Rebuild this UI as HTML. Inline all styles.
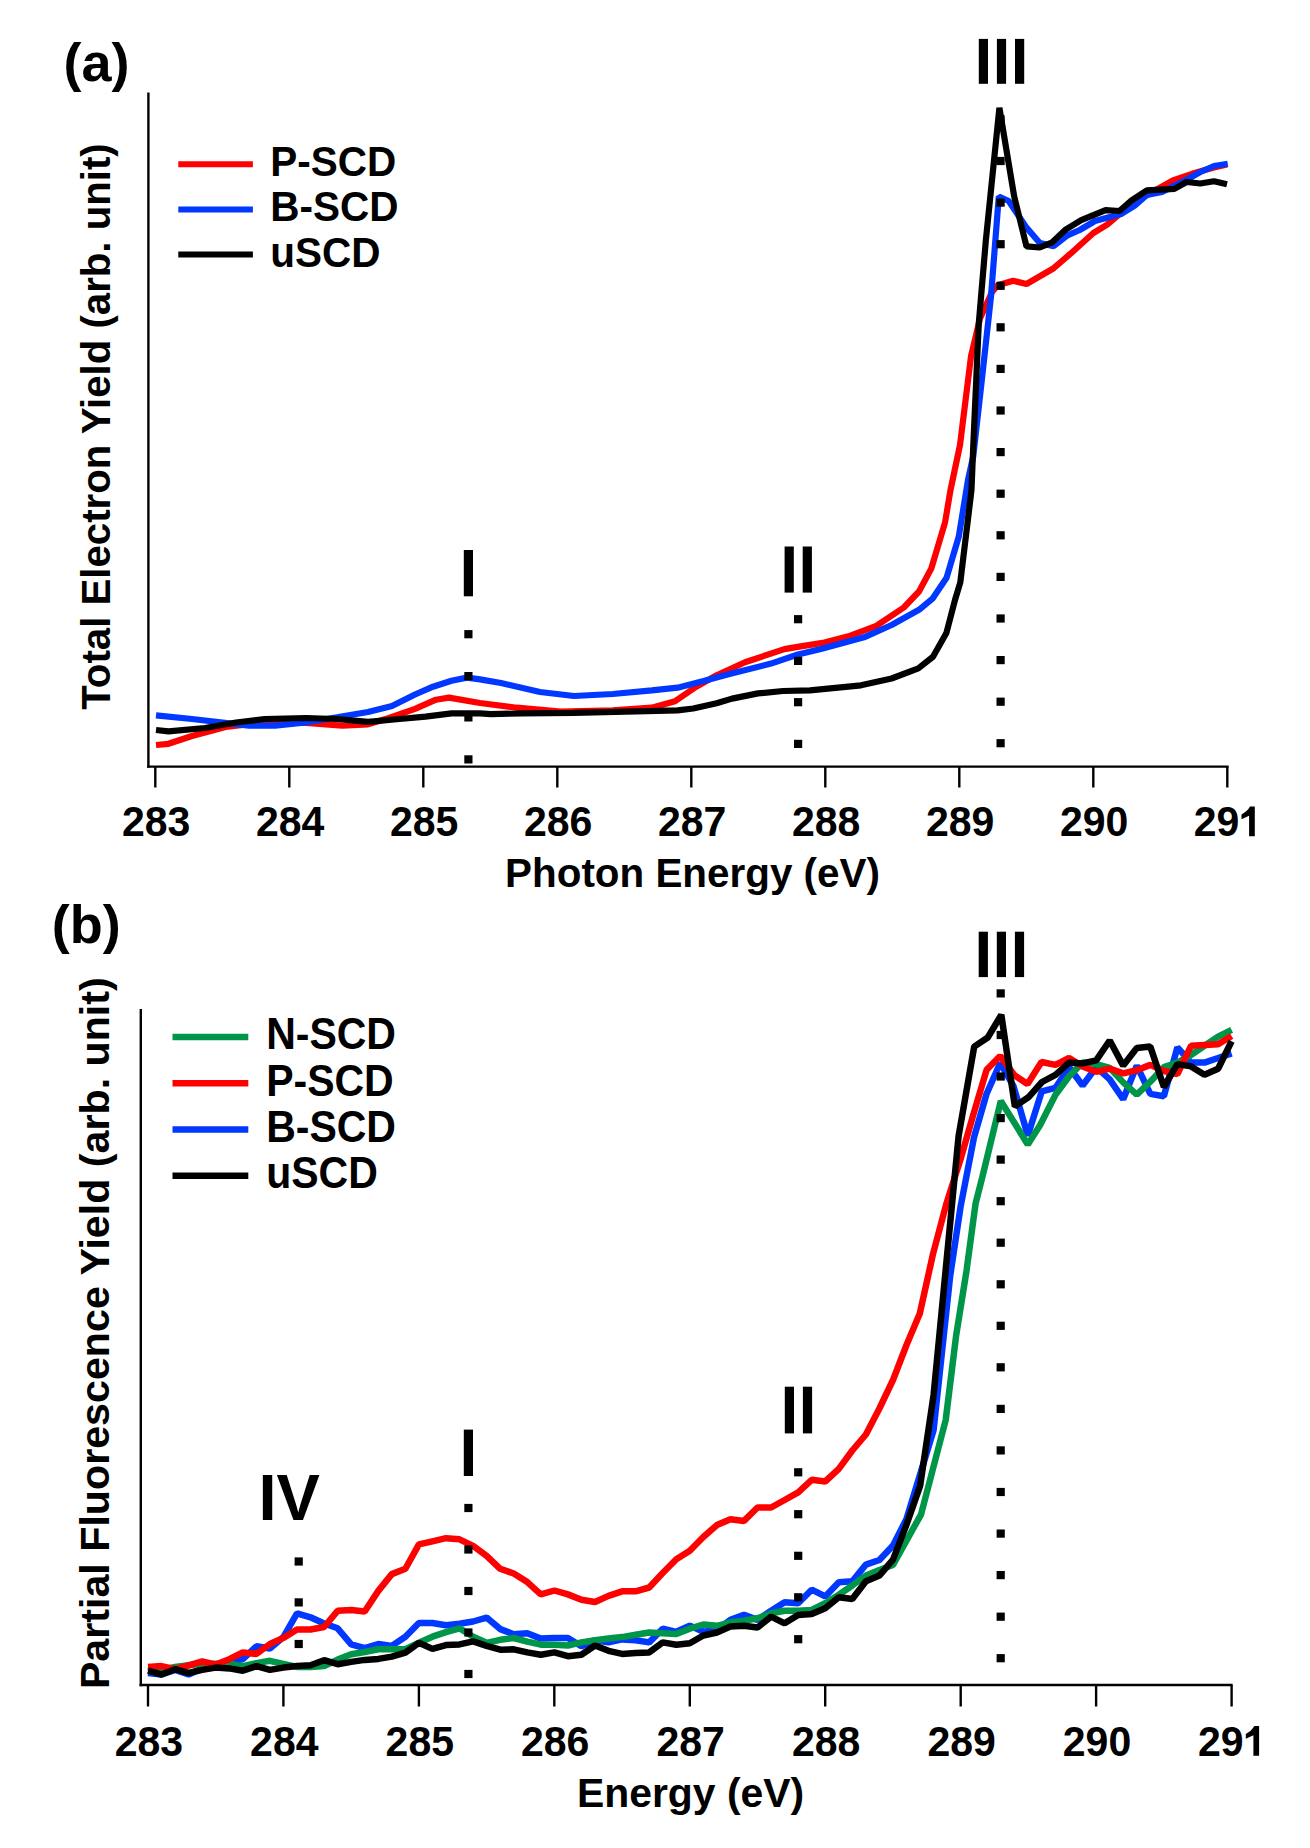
<!DOCTYPE html>
<html><head><meta charset="utf-8"><title>NEXAFS spectra</title>
<style>html,body{margin:0;padding:0;background:#fff;} body{width:1310px;height:1848px;overflow:hidden;font-family:"Liberation Sans",sans-serif;} svg{display:block;}</style>
</head><body>
<svg width="1310" height="1848" viewBox="0 0 1310 1848">
<rect x="0" y="0" width="1310" height="1848" fill="#ffffff"/>
<line x1="148.4" y1="92.6" x2="148.4" y2="767.8000000000001" stroke="#000" stroke-width="2.4"/>
<line x1="147.20000000000002" y1="766.6" x2="1228.6" y2="766.6" stroke="#000" stroke-width="2.4"/>
<line x1="155.3" y1="766.6" x2="155.3" y2="787.5" stroke="#000" stroke-width="2.4"/>
<text transform="translate(156.2,836.3) scale(1,1.06)" x="0" y="0" font-size="41" text-anchor="middle" font-family="Liberation Sans" font-weight="bold">283</text>
<line x1="289.3" y1="766.6" x2="289.3" y2="787.5" stroke="#000" stroke-width="2.4"/>
<text transform="translate(290.2,836.3) scale(1,1.06)" x="0" y="0" font-size="41" text-anchor="middle" font-family="Liberation Sans" font-weight="bold">284</text>
<line x1="423.3" y1="766.6" x2="423.3" y2="787.5" stroke="#000" stroke-width="2.4"/>
<text transform="translate(424.2,836.3) scale(1,1.06)" x="0" y="0" font-size="41" text-anchor="middle" font-family="Liberation Sans" font-weight="bold">285</text>
<line x1="557.3" y1="766.6" x2="557.3" y2="787.5" stroke="#000" stroke-width="2.4"/>
<text transform="translate(558.2,836.3) scale(1,1.06)" x="0" y="0" font-size="41" text-anchor="middle" font-family="Liberation Sans" font-weight="bold">286</text>
<line x1="691.3" y1="766.6" x2="691.3" y2="787.5" stroke="#000" stroke-width="2.4"/>
<text transform="translate(692.2,836.3) scale(1,1.06)" x="0" y="0" font-size="41" text-anchor="middle" font-family="Liberation Sans" font-weight="bold">287</text>
<line x1="825.3" y1="766.6" x2="825.3" y2="787.5" stroke="#000" stroke-width="2.4"/>
<text transform="translate(826.2,836.3) scale(1,1.06)" x="0" y="0" font-size="41" text-anchor="middle" font-family="Liberation Sans" font-weight="bold">288</text>
<line x1="959.3" y1="766.6" x2="959.3" y2="787.5" stroke="#000" stroke-width="2.4"/>
<text transform="translate(960.2,836.3) scale(1,1.06)" x="0" y="0" font-size="41" text-anchor="middle" font-family="Liberation Sans" font-weight="bold">289</text>
<line x1="1093.3" y1="766.6" x2="1093.3" y2="787.5" stroke="#000" stroke-width="2.4"/>
<text transform="translate(1094.2,836.3) scale(1,1.06)" x="0" y="0" font-size="41" text-anchor="middle" font-family="Liberation Sans" font-weight="bold">290</text>
<line x1="1227.3" y1="766.6" x2="1227.3" y2="787.5" stroke="#000" stroke-width="2.4"/>
<text transform="translate(1193.7,836.3) scale(1,1.06)" x="0" y="0" font-size="41" font-family="Liberation Sans" font-weight="bold">29</text><path d="M1254.8 806.6 L1254.8 836.3 L1249.1 836.3 L1249.1 815.7 L1241.5 819.3 L1241.5 814.5 Q1247.2 811.7 1250.0 806.6 Z" fill="#000"/>
<text x="692.5" y="886.5" font-size="40.4" text-anchor="middle" font-family="Liberation Sans" font-weight="bold">Photon Energy (eV)</text>
<text transform="translate(109.6,426.5) rotate(-90)" x="0" y="0" font-size="40.2" text-anchor="middle" font-family="Liberation Sans" font-weight="bold">Total Electron Yield (arb. unit)</text>
<text x="63.5" y="81" font-size="54" font-family="Liberation Sans" font-weight="bold">(a)</text>
<line x1="178.3" y1="164.3" x2="252.9" y2="164.3" stroke="#ff0000" stroke-width="6"/>
<text transform="translate(270.2,176.2) scale(1,1.03)" x="0" y="0" font-size="40.5" font-family="Liberation Sans" font-weight="bold">P-SCD</text>
<line x1="178.3" y1="209.4" x2="252.9" y2="209.4" stroke="#0038ff" stroke-width="6"/>
<text transform="translate(270.2,221.4) scale(1,1.03)" x="0" y="0" font-size="40.5" font-family="Liberation Sans" font-weight="bold">B-SCD</text>
<line x1="178.3" y1="254.5" x2="252.9" y2="254.5" stroke="#000000" stroke-width="6"/>
<text transform="translate(270.2,266.6) scale(1,1.03)" x="0" y="0" font-size="40.5" font-family="Liberation Sans" font-weight="bold">uSCD</text>
<rect x="463.8" y="550.0" width="9.2" height="46.3" fill="#000"/>
<rect x="784.6" y="546.5" width="9.2" height="46.1" fill="#000"/><rect x="802.7" y="546.5" width="9.2" height="46.1" fill="#000"/>
<rect x="978.8" y="38.9" width="9.2" height="44.9" fill="#000"/><rect x="996.9" y="38.9" width="9.2" height="44.9" fill="#000"/><rect x="1015.0" y="38.9" width="9.2" height="44.9" fill="#000"/>
<polyline points="156.0,745.0 168.5,743.8 192.0,736.0 225.6,727.0 270.0,721.8 306.0,723.0 342.4,725.6 368.0,724.3 389.0,718.0 415.0,708.8 436.0,699.7 449.0,697.6 480.0,703.0 516.7,707.7 560.8,711.6 612.7,710.3 651.7,707.7 675.0,701.2 695.8,687.0 716.6,675.3 745.0,662.3 784.4,649.1 800.6,646.4 824.4,642.6 850.4,635.7 876.3,625.8 903.8,607.5 919.0,591.5 931.3,568.5 945.0,522.7 950.5,490.0 960.0,445.0 971.0,356.3 980.0,318.5 992.0,292.0 997.7,285.3 1013.2,280.8 1026.5,284.0 1053.7,268.2 1070.5,253.7 1093.4,233.0 1107.2,224.7 1131.6,204.0 1146.9,195.0 1172.8,180.5 1192.7,173.6 1214.0,167.5 1227.0,164.4" fill="none" stroke="#ff0000" stroke-width="6.2" stroke-linejoin="bevel" stroke-linecap="butt"/>
<polyline points="156.0,715.3 192.0,719.0 249.0,725.6 275.0,725.6 306.0,722.5 337.0,717.3 368.0,712.0 392.0,706.0 415.0,694.5 433.0,686.7 451.5,680.7 467.0,677.6 480.0,679.4 501.0,683.0 540.0,692.0 574.0,696.0 612.7,694.0 651.7,690.3 677.6,687.7 703.6,681.0 729.5,674.0 771.0,663.6 797.9,654.5 820.9,649.1 864.0,637.3 891.6,625.0 919.0,609.8 932.8,598.3 946.6,577.7 958.8,536.5 968.0,480.0 973.3,456.0 982.0,378.4 991.0,296.3 998.8,196.5 1008.7,201.0 1026.5,227.6 1039.8,243.0 1053.7,246.1 1067.5,235.4 1079.7,230.0 1095.0,221.0 1121.0,214.0 1134.7,205.6 1146.9,195.0 1162.0,192.0 1186.6,179.7 1200.3,172.0 1214.0,166.0 1227.8,163.7" fill="none" stroke="#0038ff" stroke-width="6.2" stroke-linejoin="bevel" stroke-linecap="butt"/>
<polyline points="156.0,730.0 168.5,731.4 205.0,728.0 236.0,722.5 264.6,719.0 306.0,718.0 337.0,719.0 368.0,721.8 399.5,719.0 425.5,716.6 451.5,713.4 480.0,713.4 490.8,714.2 522.0,713.4 573.8,712.9 625.7,711.6 677.6,710.3 693.2,708.5 716.6,703.3 732.0,698.6 758.0,693.4 783.0,691.0 810.0,690.4 861.0,685.3 891.6,678.5 918.3,668.4 933.0,656.8 946.4,633.0 955.0,600.0 960.3,582.3 971.5,490.0 973.3,445.0 978.8,323.0 985.8,240.9 999.4,107.7 1014.2,196.5 1026.5,246.4 1039.8,247.5 1052.2,242.3 1066.0,229.3 1081.2,220.2 1105.6,210.2 1119.4,211.0 1131.6,200.3 1146.9,190.4 1174.4,188.9 1186.6,182.0 1200.3,183.5 1214.0,181.2 1227.0,184.3" fill="none" stroke="#000000" stroke-width="6.2" stroke-linejoin="bevel" stroke-linecap="butt"/>
<rect x="464.3" y="630.1" width="8.2" height="8.2" fill="#000"/><rect x="464.3" y="672.0" width="8.2" height="8.2" fill="#000"/><rect x="464.3" y="713.3" width="8.2" height="8.2" fill="#000"/><rect x="464.3" y="755.3" width="8.2" height="8.2" fill="#000"/>
<rect x="794.0" y="615.1" width="8.2" height="8.2" fill="#000"/><rect x="794.0" y="656.8" width="8.2" height="8.2" fill="#000"/><rect x="794.0" y="698.1" width="8.2" height="8.2" fill="#000"/><rect x="794.0" y="739.8" width="8.2" height="8.2" fill="#000"/>
<rect x="996.5" y="115.3" width="8.2" height="8.2" fill="#000"/><rect x="996.5" y="156.9" width="8.2" height="8.2" fill="#000"/><rect x="996.5" y="198.5" width="8.2" height="8.2" fill="#000"/><rect x="996.5" y="240.1" width="8.2" height="8.2" fill="#000"/><rect x="996.5" y="281.7" width="8.2" height="8.2" fill="#000"/><rect x="996.5" y="323.2" width="8.2" height="8.2" fill="#000"/><rect x="996.5" y="364.8" width="8.2" height="8.2" fill="#000"/><rect x="996.5" y="406.4" width="8.2" height="8.2" fill="#000"/><rect x="996.5" y="448.0" width="8.2" height="8.2" fill="#000"/><rect x="996.5" y="489.6" width="8.2" height="8.2" fill="#000"/><rect x="996.5" y="531.2" width="8.2" height="8.2" fill="#000"/><rect x="996.5" y="572.8" width="8.2" height="8.2" fill="#000"/><rect x="996.5" y="614.4" width="8.2" height="8.2" fill="#000"/><rect x="996.5" y="656.0" width="8.2" height="8.2" fill="#000"/><rect x="996.5" y="697.6" width="8.2" height="8.2" fill="#000"/><rect x="996.5" y="739.1" width="8.2" height="8.2" fill="#000"/>
<line x1="140.8" y1="1009.1" x2="140.8" y2="1686.2" stroke="#000" stroke-width="2.4"/>
<line x1="139.60000000000002" y1="1685.0" x2="1232.6" y2="1685.0" stroke="#000" stroke-width="2.4"/>
<line x1="148.0" y1="1685.0" x2="148.0" y2="1706.5" stroke="#000" stroke-width="2.4"/>
<text transform="translate(148.9,1755.8) scale(1,1.06)" x="0" y="0" font-size="41" text-anchor="middle" font-family="Liberation Sans" font-weight="bold">283</text>
<line x1="283.4" y1="1685.0" x2="283.4" y2="1706.5" stroke="#000" stroke-width="2.4"/>
<text transform="translate(284.3,1755.8) scale(1,1.06)" x="0" y="0" font-size="41" text-anchor="middle" font-family="Liberation Sans" font-weight="bold">284</text>
<line x1="418.9" y1="1685.0" x2="418.9" y2="1706.5" stroke="#000" stroke-width="2.4"/>
<text transform="translate(419.8,1755.8) scale(1,1.06)" x="0" y="0" font-size="41" text-anchor="middle" font-family="Liberation Sans" font-weight="bold">285</text>
<line x1="554.3" y1="1685.0" x2="554.3" y2="1706.5" stroke="#000" stroke-width="2.4"/>
<text transform="translate(555.2,1755.8) scale(1,1.06)" x="0" y="0" font-size="41" text-anchor="middle" font-family="Liberation Sans" font-weight="bold">286</text>
<line x1="689.8" y1="1685.0" x2="689.8" y2="1706.5" stroke="#000" stroke-width="2.4"/>
<text transform="translate(690.7,1755.8) scale(1,1.06)" x="0" y="0" font-size="41" text-anchor="middle" font-family="Liberation Sans" font-weight="bold">287</text>
<line x1="825.2" y1="1685.0" x2="825.2" y2="1706.5" stroke="#000" stroke-width="2.4"/>
<text transform="translate(826.1,1755.8) scale(1,1.06)" x="0" y="0" font-size="41" text-anchor="middle" font-family="Liberation Sans" font-weight="bold">288</text>
<line x1="960.7" y1="1685.0" x2="960.7" y2="1706.5" stroke="#000" stroke-width="2.4"/>
<text transform="translate(961.6,1755.8) scale(1,1.06)" x="0" y="0" font-size="41" text-anchor="middle" font-family="Liberation Sans" font-weight="bold">289</text>
<line x1="1096.1" y1="1685.0" x2="1096.1" y2="1706.5" stroke="#000" stroke-width="2.4"/>
<text transform="translate(1097.0,1755.8) scale(1,1.06)" x="0" y="0" font-size="41" text-anchor="middle" font-family="Liberation Sans" font-weight="bold">290</text>
<line x1="1231.6" y1="1685.0" x2="1231.6" y2="1706.5" stroke="#000" stroke-width="2.4"/>
<text transform="translate(1198.0,1755.8) scale(1,1.06)" x="0" y="0" font-size="41" font-family="Liberation Sans" font-weight="bold">29</text><path d="M1259.1 1726.1 L1259.1 1755.8 L1253.4 1755.8 L1253.4 1735.2 L1245.8 1738.8 L1245.8 1734.0 Q1251.5 1731.2 1254.3 1726.1 Z" fill="#000"/>
<text x="690.6" y="1807.2" font-size="40.9" text-anchor="middle" font-family="Liberation Sans" font-weight="bold">Energy (eV)</text>
<text transform="translate(108.6,1333.2) rotate(-90)" x="0" y="0" font-size="41.2" text-anchor="middle" font-family="Liberation Sans" font-weight="bold">Partial Fluorescence Yield (arb. unit)</text>
<text x="51.8" y="942.6" font-size="54" font-family="Liberation Sans" font-weight="bold">(b)</text>
<line x1="172.5" y1="1037.1" x2="248.3" y2="1037.1" stroke="#00964a" stroke-width="6.5"/>
<text transform="translate(266.2,1049.4) scale(1,1.07)" x="0" y="0" font-size="41" font-family="Liberation Sans" font-weight="bold">N-SCD</text>
<line x1="172.5" y1="1083.3" x2="248.3" y2="1083.3" stroke="#ff0000" stroke-width="6.5"/>
<text transform="translate(266.2,1095.5) scale(1,1.07)" x="0" y="0" font-size="41" font-family="Liberation Sans" font-weight="bold">P-SCD</text>
<line x1="172.5" y1="1129.5" x2="248.3" y2="1129.5" stroke="#0038ff" stroke-width="6.5"/>
<text transform="translate(266.2,1141.6) scale(1,1.07)" x="0" y="0" font-size="41" font-family="Liberation Sans" font-weight="bold">B-SCD</text>
<line x1="172.5" y1="1175.7" x2="248.3" y2="1175.7" stroke="#000000" stroke-width="6.5"/>
<text transform="translate(266.2,1187.7) scale(1,1.07)" x="0" y="0" font-size="41" font-family="Liberation Sans" font-weight="bold">uSCD</text>
<rect x="463.8" y="1429.6" width="9.2" height="46.4" fill="#000"/>
<rect x="784.8" y="1386.7" width="9.2" height="46.7" fill="#000"/><rect x="802.9" y="1386.7" width="9.2" height="46.7" fill="#000"/>
<rect x="978.7" y="931.7" width="9.2" height="45.4" fill="#000"/><rect x="996.8" y="931.7" width="9.2" height="45.4" fill="#000"/><rect x="1014.9" y="931.7" width="9.2" height="45.4" fill="#000"/>
<text x="258.5" y="1520.4" font-size="65" font-family="Liberation Sans" font-weight="bold">IV</text>
<polyline points="148.0,1673.0 161.5,1674.5 175.1,1670.0 188.6,1674.5 202.2,1668.4 215.7,1665.3 229.3,1662.3 242.8,1659.2 256.4,1646.3 269.9,1648.5 283.4,1637.1 297.0,1613.4 310.5,1617.3 324.1,1623.5 337.6,1628.3 351.2,1644.4 364.7,1648.2 378.3,1644.0 391.8,1645.9 405.4,1636.7 418.9,1623.0 432.4,1623.0 446.0,1625.3 459.5,1623.7 473.1,1621.5 486.6,1617.6 500.2,1629.1 513.7,1634.2 527.3,1633.3 540.8,1638.6 554.4,1637.9 567.9,1637.9 581.4,1646.3 595.0,1640.2 608.5,1642.4 622.1,1639.4 635.6,1640.2 649.2,1642.4 662.7,1628.7 676.3,1631.8 689.8,1625.6 703.3,1631.7 716.9,1630.0 730.4,1619.9 744.0,1614.9 757.5,1619.9 771.1,1610.7 784.6,1602.3 798.2,1603.2 811.7,1589.7 825.2,1596.4 838.8,1582.2 852.3,1581.3 865.9,1564.6 879.4,1560.0 893.0,1545.5 906.5,1519.0 920.1,1474.5 933.6,1430.0 950.2,1275.7 960.6,1206.5 974.0,1137.3 986.5,1094.0 1000.2,1063.0 1013.5,1086.2 1027.8,1135.6 1041.7,1091.4 1055.5,1087.8 1069.1,1067.2 1082.6,1085.5 1096.2,1067.2 1109.7,1079.4 1123.2,1099.2 1136.8,1065.6 1150.3,1093.9 1163.9,1096.2 1177.4,1047.3 1191.0,1062.6 1204.5,1062.6 1218.1,1058.0 1231.6,1053.4" fill="none" stroke="#0038ff" stroke-width="6.5" stroke-linejoin="bevel" stroke-linecap="butt"/>
<polyline points="148.0,1666.9 161.5,1670.0 175.1,1666.9 188.6,1665.3 202.2,1663.8 215.7,1663.8 229.3,1663.8 242.8,1666.1 256.4,1663.1 269.9,1660.8 283.4,1663.8 297.0,1666.9 310.5,1666.9 324.1,1666.0 337.6,1659.6 351.2,1654.3 364.7,1652.0 378.3,1649.2 391.8,1649.2 405.4,1649.2 418.9,1642.8 432.4,1636.7 446.0,1632.1 459.5,1628.3 473.1,1636.7 486.6,1642.8 500.2,1639.8 513.7,1638.0 527.3,1641.7 540.8,1644.7 554.4,1644.7 567.9,1645.5 581.4,1642.4 595.0,1640.2 608.5,1638.6 622.1,1637.1 635.6,1634.8 649.2,1632.5 662.7,1633.3 676.3,1634.0 689.8,1628.7 703.3,1624.5 716.9,1625.8 730.4,1622.5 744.0,1620.8 757.5,1618.3 771.1,1613.2 784.6,1610.7 798.2,1610.7 811.7,1609.9 825.2,1603.2 838.8,1594.8 852.3,1585.5 865.9,1575.5 879.4,1570.0 893.0,1565.0 921.1,1514.3 945.7,1420.0 956.1,1335.8 966.5,1270.9 975.6,1203.4 982.1,1178.0 1000.8,1101.0 1027.8,1144.5 1040.0,1125.2 1055.5,1094.7 1069.1,1076.3 1082.6,1062.6 1096.2,1064.1 1109.7,1067.9 1123.2,1082.4 1136.8,1094.7 1150.3,1081.7 1163.9,1067.2 1177.4,1062.6 1191.0,1055.0 1204.5,1045.8 1218.1,1036.6 1231.6,1029.8" fill="none" stroke="#00964a" stroke-width="6.5" stroke-linejoin="bevel" stroke-linecap="butt"/>
<polyline points="148.0,1666.9 161.5,1666.1 175.1,1669.2 188.6,1665.3 202.2,1661.5 215.7,1664.6 229.3,1659.2 242.8,1652.4 256.4,1653.9 269.9,1644.0 283.4,1637.9 297.0,1629.5 310.5,1629.5 324.1,1627.0 337.6,1610.8 351.2,1610.0 364.7,1611.5 378.3,1590.9 391.8,1574.1 405.4,1568.8 418.9,1544.4 432.4,1541.3 446.0,1538.2 459.5,1539.3 473.1,1545.9 486.6,1555.8 500.2,1568.8 513.7,1573.5 527.3,1582.1 540.8,1594.4 554.4,1590.5 567.9,1594.4 581.4,1599.7 595.0,1602.0 608.5,1595.9 622.1,1591.3 635.6,1591.3 649.2,1587.5 662.7,1573.0 676.3,1559.2 689.8,1550.8 703.3,1537.0 716.9,1525.1 730.4,1519.3 744.0,1520.9 757.5,1507.5 771.1,1507.5 784.6,1500.0 798.2,1492.4 811.7,1479.8 825.2,1481.5 838.8,1468.9 852.3,1450.5 865.9,1434.5 879.4,1408.5 893.0,1380.0 906.5,1345.0 919.8,1313.5 933.0,1254.0 946.0,1205.0 960.6,1159.0 973.6,1113.6 986.6,1069.8 1000.2,1056.0 1014.4,1075.2 1027.5,1084.0 1041.5,1062.0 1055.5,1064.9 1069.1,1058.0 1082.6,1066.4 1096.2,1071.8 1109.7,1068.7 1123.2,1073.3 1136.8,1070.2 1150.3,1064.9 1163.9,1071.0 1177.4,1074.0 1191.0,1045.8 1204.5,1045.0 1218.1,1044.3 1231.6,1035.9" fill="none" stroke="#ff0000" stroke-width="6.5" stroke-linejoin="bevel" stroke-linecap="butt"/>
<polyline points="148.0,1670.7 161.5,1674.5 175.1,1669.2 188.6,1673.0 202.2,1669.9 215.7,1667.6 229.3,1668.4 242.8,1670.7 256.4,1666.1 269.9,1669.9 283.4,1667.6 297.0,1666.1 310.5,1665.3 324.1,1660.2 337.6,1664.2 351.2,1661.9 364.7,1659.9 378.3,1658.9 391.8,1656.6 405.4,1652.7 418.9,1642.8 432.4,1648.9 446.0,1645.1 459.5,1644.4 473.1,1641.3 486.6,1645.9 500.2,1649.7 513.7,1649.3 527.3,1652.4 540.8,1654.7 554.4,1652.4 567.9,1656.2 581.4,1654.7 595.0,1645.5 608.5,1650.8 622.1,1653.9 635.6,1653.1 649.2,1652.4 662.7,1642.4 676.3,1644.7 689.8,1643.2 703.3,1635.5 716.9,1632.5 730.4,1626.6 744.0,1625.8 757.5,1627.5 771.1,1616.6 784.6,1623.3 798.2,1614.9 811.7,1614.1 825.2,1608.2 838.8,1597.3 852.3,1599.0 865.9,1581.3 879.4,1575.6 893.0,1559.7 906.5,1524.7 920.1,1485.9 933.6,1394.9 958.6,1136.0 974.2,1046.6 987.8,1037.5 1001.3,1014.8 1014.9,1106.4 1028.4,1097.3 1042.0,1082.0 1055.5,1074.8 1069.1,1062.6 1082.6,1063.4 1096.2,1060.3 1109.7,1040.5 1123.2,1065.6 1136.8,1048.1 1150.3,1046.6 1163.9,1087.0 1177.4,1064.1 1191.0,1066.4 1204.5,1074.8 1218.1,1068.7 1231.6,1041.2" fill="none" stroke="#000000" stroke-width="6.5" stroke-linejoin="bevel" stroke-linecap="butt"/>
<rect x="294.6" y="1557.4" width="8.2" height="8.2" fill="#000"/><rect x="294.6" y="1598.3" width="8.2" height="8.2" fill="#000"/><rect x="294.6" y="1639.9" width="8.2" height="8.2" fill="#000"/>
<rect x="464.3" y="1503.9" width="8.2" height="8.2" fill="#000"/><rect x="464.3" y="1545.4" width="8.2" height="8.2" fill="#000"/><rect x="464.3" y="1586.9" width="8.2" height="8.2" fill="#000"/><rect x="464.3" y="1628.4" width="8.2" height="8.2" fill="#000"/><rect x="464.3" y="1669.9" width="8.2" height="8.2" fill="#000"/>
<rect x="794.1" y="1468.2" width="8.2" height="8.2" fill="#000"/><rect x="794.1" y="1510.1" width="8.2" height="8.2" fill="#000"/><rect x="794.1" y="1551.7" width="8.2" height="8.2" fill="#000"/><rect x="794.1" y="1593.2" width="8.2" height="8.2" fill="#000"/><rect x="794.1" y="1635.1" width="8.2" height="8.2" fill="#000"/>
<rect x="996.6" y="989.3" width="8.2" height="8.2" fill="#000"/><rect x="996.6" y="1030.9" width="8.2" height="8.2" fill="#000"/><rect x="996.6" y="1072.4" width="8.2" height="8.2" fill="#000"/><rect x="996.6" y="1114.0" width="8.2" height="8.2" fill="#000"/><rect x="996.6" y="1155.5" width="8.2" height="8.2" fill="#000"/><rect x="996.6" y="1197.1" width="8.2" height="8.2" fill="#000"/><rect x="996.6" y="1238.6" width="8.2" height="8.2" fill="#000"/><rect x="996.6" y="1280.2" width="8.2" height="8.2" fill="#000"/><rect x="996.6" y="1321.7" width="8.2" height="8.2" fill="#000"/><rect x="996.6" y="1363.2" width="8.2" height="8.2" fill="#000"/><rect x="996.6" y="1404.8" width="8.2" height="8.2" fill="#000"/><rect x="996.6" y="1446.3" width="8.2" height="8.2" fill="#000"/><rect x="996.6" y="1487.9" width="8.2" height="8.2" fill="#000"/><rect x="996.6" y="1529.5" width="8.2" height="8.2" fill="#000"/><rect x="996.6" y="1571.0" width="8.2" height="8.2" fill="#000"/><rect x="996.6" y="1612.6" width="8.2" height="8.2" fill="#000"/><rect x="996.6" y="1654.1" width="8.2" height="8.2" fill="#000"/>
</svg>
</body></html>
